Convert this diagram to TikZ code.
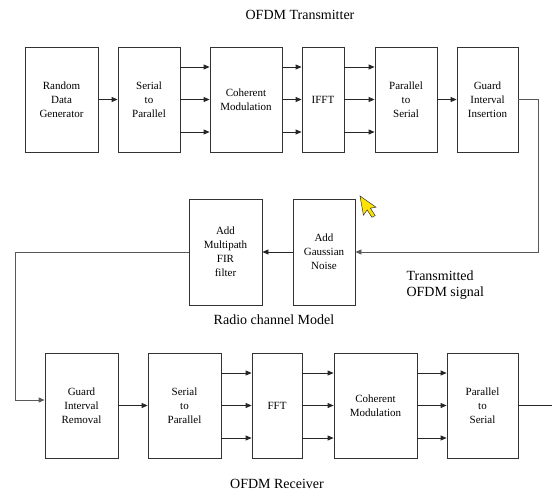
\documentclass[tikz,border=0pt]{standalone}
\usepackage{fontspec}
\setmainfont{Liberation Serif}
\usetikzlibrary{arrows.meta}

\begin{document}
\begin{tikzpicture}[x=1pt,y=-1pt,>={Triangle[length=6pt,width=5pt]},
  blk/.style={draw=black!80,line width=.8pt,inner sep=0pt,align=center,font=\fontsize{11}{14}\selectfont},
  lnk/.style={->,black!85,line width=.8pt},
  ttl/.style={font=\fontsize{14}{16}\selectfont}]
\useasboundingbox (0,0) rectangle (552,493);
\node[ttl] (txt) at (300,15) {OFDM Transmitter};
\node[blk,minimum width=73pt,minimum height=105pt] (rdg) at (61.5,99.5) {Random\\Data\\Generator};
\node[blk,minimum width=62pt,minimum height=105pt] (sp1) at (149,99.5) {Serial\\to\\Parallel};
\node[blk,minimum width=72pt,minimum height=105pt] (cm1) at (246,99.5) {Coherent\\Modulation};
\node[blk,minimum width=42pt,minimum height=105pt] (ifft) at (323,99.5) {IFFT};
\node[blk,minimum width=62pt,minimum height=105pt] (ps1) at (406,99.5) {Parallel\\to\\Serial};
\node[blk,minimum width=61pt,minimum height=105pt] (gii) at (487.5,99.5) {Guard\\Interval\\Insertion};
\node[blk,minimum width=73pt,minimum height=106pt] (mpf) at (225.5,252) {Add\\Multipath\\FIR\\filter};
\node[blk,minimum width=62pt,minimum height=106pt] (agn) at (324,252) {Add\\Gaussian\\Noise};
\node[ttl,anchor=west,align=left] (tsig) at (403,285) {Transmitted\\OFDM signal};
\node[ttl] (rcm) at (274,320) {Radio channel Model};
\node[blk,minimum width=73pt,minimum height=105pt] (gir) at (81.5,405.5) {Guard\\Interval\\Removal};
\node[blk,minimum width=73pt,minimum height=105pt] (sp2) at (184.5,405.5) {Serial\\to\\Parallel};
\node[blk,minimum width=50pt,minimum height=105pt] (fft) at (277,405.5) {FFT};
\node[blk,minimum width=83pt,minimum height=105pt] (cm2) at (375.5,405.5) {Coherent\\Modulation};
\node[blk,minimum width=71pt,minimum height=105pt] (ps2) at (482.5,405.5) {Parallel\\to\\Serial};
\node[ttl] (rxt) at (277,484) {OFDM Receiver};
\coordinate (bend) at (15,400);
\coordinate (out) at (552,405.5);
\draw[lnk] (rdg) -- (sp1);
\draw[lnk] (ps1) -- (gii);
\foreach \a/\b in {sp1/cm1,cm1/ifft,ifft/ps1,sp2/fft,fft/cm2,cm2/ps2}
  \foreach \d in {-32.5,0,32.5}
    \draw[lnk] ([yshift=\d pt]\a.east) -- ([yshift=\d pt]\b.west);
\draw[lnk,black!65] (gii.east) -- ++(20,0) |- (agn.east);
\draw[lnk] (agn) -- (mpf);
\draw[lnk,black!65] (mpf.west) -| (bend) -- ([yshift=5.5pt]gir.west);
\draw[lnk] (gir) -- (sp2);
\draw[black!85,line width=.8pt] (ps2.east) -- (out);
\draw[fill=yellow!85!orange,draw=black!80,line width=.5pt,shift={(360,196)},scale=1.15]
  (0,0) -- (3,16.7) -- (6.2,12.1) -- (10.4,18.5) -- (13.2,17) -- (9,10.6) -- (13.9,9.7) -- cycle;
\end{tikzpicture}
\end{document}
